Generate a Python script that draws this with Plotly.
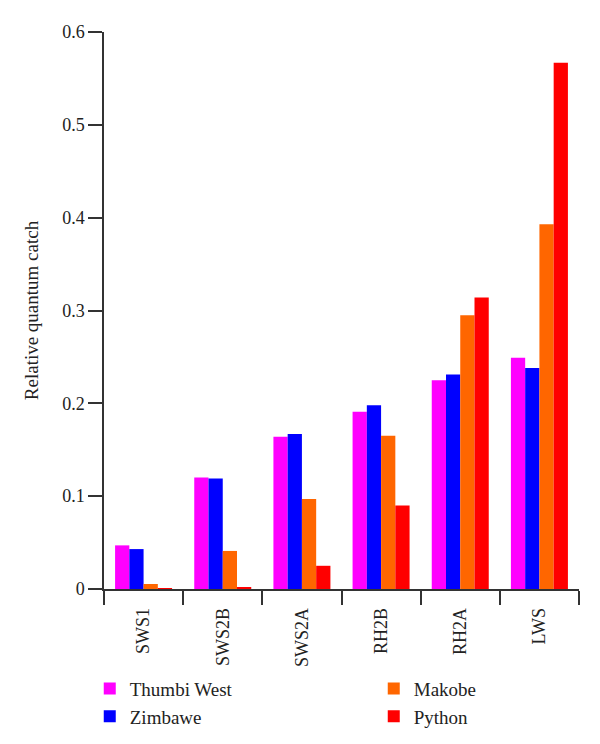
import plotly.graph_objects as go

categories = ["SWS1", "SWS2B", "SWS2A", "RH2B", "RH2A", "LWS"]
thumbi_west = [0.047, 0.120, 0.164, 0.191, 0.225, 0.249]
zimbawe = [0.043, 0.119, 0.167, 0.198, 0.231, 0.238]
makobe = [0.0054, 0.041, 0.097, 0.165, 0.295, 0.393]
python_ = [0.0005, 0.002, 0.025, 0.090, 0.314, 0.567]
y_ticks = [0, 0.1, 0.2, 0.3, 0.4, 0.5, 0.6]
y_tick_labels = ["0", "0.1", "0.2", "0.3", "0.4", "0.5", "0.6"]

series = [
    ("Thumbi West", thumbi_west, "#FF00FF", 1),
    ("Zimbawe", zimbawe, "#0000FF", 3),
    ("Makobe", makobe, "#FF6600", 2),
    ("Python", python_, "#FF0000", 4),
]

FONT = "Liberation Serif"
fig = go.Figure()
for name, vals, color, rank in series:
    fig.add_trace(go.Bar(x=categories, y=vals, name=name, marker_color=color,
                         marker_line_width=0, legendrank=rank))

fig.update_layout(
    width=592, height=736,
    margin=dict(l=96, r=21, t=24, b=155, autoexpand=False),
    plot_bgcolor="white", paper_bgcolor="white",
    barmode="group", bargap=0.28, bargroupgap=0,
    font=dict(family=FONT, size=18, color="#222"),
    xaxis=dict(
        type="category", tickangle=-90, showline=True, linecolor="#333", linewidth=1.5,
        ticks="outside", tickson="boundaries", ticklen=14, tickcolor="#333", tickwidth=1.5,
        ticklabelstandoff=10,
        showgrid=False, tickfont=dict(family=FONT, size=18),
    ),
    yaxis=dict(
        range=[0, 0.6], tickvals=y_ticks, ticktext=y_tick_labels,
        showline=True, linecolor="#333", linewidth=1.5,
        ticks="outside", ticklen=14, tickcolor="#333", tickwidth=1.5,
        showgrid=False, zeroline=False, tickfont=dict(family=FONT, size=18),
        title=dict(text="Relative quantum catch", font=dict(family=FONT, size=19), standoff=19),
    ),
    legend=dict(x=-0.03, y=-0.145, xanchor="left", yanchor="top", orientation="h",
                entrywidth=239, entrywidthmode="pixels",
                font=dict(family=FONT, size=19, color="#222"),
                bgcolor="rgba(0,0,0,0)", traceorder="normal"),
)

fig.write_html("out.html")
